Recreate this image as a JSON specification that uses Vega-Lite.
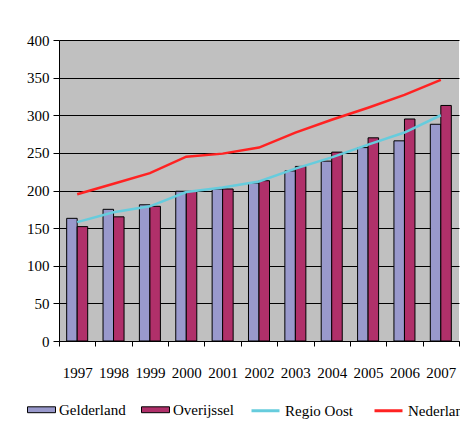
{
  "$schema": "https://vega.github.io/schema/vega-lite/v6.json",
  "width": 400,
  "height": 301,
  "autosize": "none",
  "padding": {"left": 59, "top": 40, "right": 1, "bottom": 97},
  "background": "white",
  "config": {
    "font": "'Liberation Serif', 'Times New Roman', serif",
    "view": {"fill": "#C0C0C0", "stroke": null},
    "axis": {"labelFont": "'Liberation Serif', 'Times New Roman', serif", "labelFontSize": 15, "labelColor": "black", "domainColor": "black", "tickColor": "black", "title": null},
    "legend": {"labelFont": "'Liberation Serif', 'Times New Roman', serif"}
  },
  "data": {
    "values": [
      {"year": "1997", "series": "Gelderland", "value": 163},
      {"year": "1998", "series": "Gelderland", "value": 175},
      {"year": "1999", "series": "Gelderland", "value": 181},
      {"year": "2000", "series": "Gelderland", "value": 199},
      {"year": "2001", "series": "Gelderland", "value": 202},
      {"year": "2002", "series": "Gelderland", "value": 210},
      {"year": "2003", "series": "Gelderland", "value": 226},
      {"year": "2004", "series": "Gelderland", "value": 239},
      {"year": "2005", "series": "Gelderland", "value": 257},
      {"year": "2006", "series": "Gelderland", "value": 266},
      {"year": "2007", "series": "Gelderland", "value": 288},
      {"year": "1997", "series": "Overijssel", "value": 152},
      {"year": "1998", "series": "Overijssel", "value": 165},
      {"year": "1999", "series": "Overijssel", "value": 179},
      {"year": "2000", "series": "Overijssel", "value": 199},
      {"year": "2001", "series": "Overijssel", "value": 202},
      {"year": "2002", "series": "Overijssel", "value": 213},
      {"year": "2003", "series": "Overijssel", "value": 232},
      {"year": "2004", "series": "Overijssel", "value": 251},
      {"year": "2005", "series": "Overijssel", "value": 270},
      {"year": "2006", "series": "Overijssel", "value": 295},
      {"year": "2007", "series": "Overijssel", "value": 313},
      {"year": "1997", "series": "Regio Oost", "value": 158},
      {"year": "1998", "series": "Regio Oost", "value": 171},
      {"year": "1999", "series": "Regio Oost", "value": 179},
      {"year": "2000", "series": "Regio Oost", "value": 198},
      {"year": "2001", "series": "Regio Oost", "value": 204},
      {"year": "2002", "series": "Regio Oost", "value": 212},
      {"year": "2003", "series": "Regio Oost", "value": 229},
      {"year": "2004", "series": "Regio Oost", "value": 244},
      {"year": "2005", "series": "Regio Oost", "value": 261},
      {"year": "2006", "series": "Regio Oost", "value": 277},
      {"year": "2007", "series": "Regio Oost", "value": 300},
      {"year": "1997", "series": "Nederland", "value": 195},
      {"year": "1998", "series": "Nederland", "value": 209},
      {"year": "1999", "series": "Nederland", "value": 223},
      {"year": "2000", "series": "Nederland", "value": 245},
      {"year": "2001", "series": "Nederland", "value": 249},
      {"year": "2002", "series": "Nederland", "value": 257},
      {"year": "2003", "series": "Nederland", "value": 277},
      {"year": "2004", "series": "Nederland", "value": 294},
      {"year": "2005", "series": "Nederland", "value": 310},
      {"year": "2006", "series": "Nederland", "value": 327},
      {"year": "2007", "series": "Nederland", "value": 347}
    ]
  },
  "encoding": {
    "x": {
      "field": "year", "type": "nominal",
      "scale": {"paddingInner": 0, "paddingOuter": 0},
      "axis": {"labelAngle": 0, "tickBand": "extent", "tickSize": 5, "labelPadding": 19, "labelFontSize": 15, "grid": false}
    },
    "y": {
      "field": "value", "type": "quantitative",
      "scale": {"domain": [0, 400], "nice": false},
      "axis": {"values": [0, 50, 100, 150, 200, 250, 300, 350, 400], "grid": true, "gridColor": "black", "gridWidth": 1, "gridOpacity": 1, "tickSize": 6, "labelPadding": 4}
    }
  },
  "layer": [
    {
      "transform": [{"filter": "datum.series === 'Gelderland' || datum.series === 'Overijssel'"}],
      "mark": {"type": "bar", "stroke": "black", "strokeWidth": 1},
      "encoding": {
        "xOffset": {"field": "series", "type": "nominal", "sort": ["Gelderland", "Overijssel"], "scale": {"paddingInner": 0, "paddingOuter": 0.73}},
        "fill": {
          "field": "series", "type": "nominal",
          "scale": {"domain": ["Gelderland", "Overijssel"], "range": ["#9999CC", "#B0306A"]},
          "legend": {
            "orient": "none", "legendX": -32, "legendY": 355, "direction": "horizontal", "title": null,
            "symbolType": "M-1,-0.21H1V0.21H-1Z", "symbolSize": 784, "symbolStrokeColor": "black", "symbolStrokeWidth": 1,
            "labelFontSize": 15, "labelColor": "black", "labelOffset": 3, "columnPadding": 13
          }
        }
      }
    },
    {
      "transform": [{"filter": "datum.series === 'Regio Oost' || datum.series === 'Nederland'"}],
      "mark": {"type": "line", "strokeWidth": 2.5},
      "encoding": {
        "stroke": {
          "field": "series", "type": "nominal",
          "sort": ["Regio Oost", "Nederland"],
          "scale": {"domain": ["Regio Oost", "Nederland"], "range": ["#66CCDD", "#FF2222"]},
          "legend": {
            "orient": "none", "legendX": 191, "legendY": 355, "direction": "horizontal", "title": null,
            "symbolType": "stroke", "symbolSize": 784, "symbolStrokeWidth": 3,
            "labelFontSize": 15, "labelColor": "black", "labelOffset": 4, "columnPadding": 15
          }
        }
      }
    }
  ]
}
